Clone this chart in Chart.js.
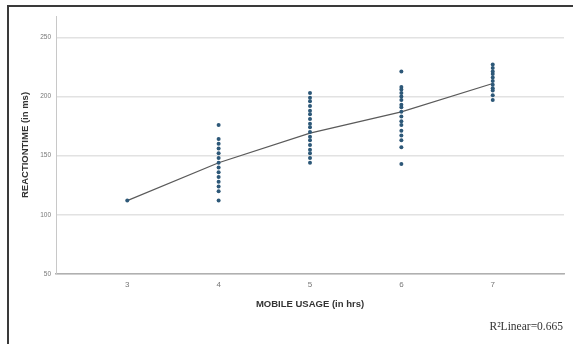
<!DOCTYPE html>
<html>
<head>
<meta charset="utf-8">
<script src="https://cdn.jsdelivr.net/npm/chart.js@4"></script>
<style>
  html, body { margin: 0; padding: 0; background: #fff; }
  #wrap { position: relative; width: 573px; height: 344px; overflow: hidden; }
  #frame { position: absolute; left: 7px; top: 5px; width: 568px; height: 345px;
           border: 2px solid #3a3a3a; box-sizing: border-box; pointer-events: none; }
  #rsq { position: absolute; right: 10px; top: 320px; font: 11.5px "Liberation Serif", serif; color: #333; }
</style>
</head>
<body>
<div id="wrap">
  <canvas id="chart" width="573" height="344"></canvas>
  <div id="frame"></div>
  <div id="rsq">R²Linear=0.665</div>
</div>
<script>
// mobile usage hours (x categories)
var usage_hours = [3, 4, 5, 6, 7];

// reaction times, one array per usage hour
var rt_3hrs = [112];
var rt_4hrs = [176, 164, 160, 156, 152, 148, 144, 140, 136, 132, 128, 124, 120, 112];
var rt_5hrs = [203, 199, 196, 192, 188, 185, 181, 177, 174, 170, 166, 163, 159, 155, 152, 148, 144];
var rt_6hrs = [221, 208, 206, 203, 200, 197, 193, 191, 187, 183, 179, 176, 171, 167, 163, 157, 143];
var rt_7hrs = [227, 224, 221, 219, 216, 213, 210, 207, 205, 201, 197];

// fit line values at each usage hour
var fit_values = [112, 144, 169, 187, 211];

// tick labels
var x_ticks = [3, 4, 5, 6, 7];
var y_ticks = [50, 100, 150, 200, 250];

//build scatter points from the arrays
function buildPoints(){
    let groups = [rt_3hrs, rt_4hrs, rt_5hrs, rt_6hrs, rt_7hrs];
    let points = [];
    groups.forEach((group, i) => {
        group.forEach(v => {
            points.push({x: usage_hours[i], y: v});
        });
    });
    return points;
}

let fit_points = usage_hours.map((h, i) => ({x: h, y: fit_values[i]}));

let ctx = document.getElementById("chart");

let scatter_chart = new Chart(ctx, {
    type: "scatter",
    data: {
        datasets: [{
            type: "line",
            data: fit_points,
            borderColor: "#5a5a5a",
            borderWidth: 1.2,
            pointRadius: 0,
            fill: false,
            order: 2
        }, {
            data: buildPoints(),
            backgroundColor: "#2d5878",
            borderColor: "#2d5878",
            pointRadius: 2,
            pointBorderWidth: 0,
            order: 1
        }]
    },
    options: {
        responsive: false,
        animation: false,
        layout: { padding: { left: 10, top: 16, right: 9, bottom: 0 } },
        plugins: {
            legend: { display: false },
            tooltip: { enabled: false }
        },
        scales: {
            x: {
                type: "linear",
                min: 2.22,
                max: 7.78,
                afterBuildTicks: axis => { axis.ticks = x_ticks.map(v => ({value: v})); },
                afterFit: axis => { axis.height = 70; },
                grid: { display: false, drawTicks: false },
                border: { color: "#b0b0b0", width: 1.5 },
                ticks: {
                    padding: 6,
                    color: "#777",
                    font: { family: "Liberation Sans", size: 8 }
                },
                title: {
                    display: true,
                    text: "MOBILE USAGE (in hrs)",
                    color: "#333",
                    font: { family: "Liberation Sans", size: 9.5, weight: "bold" },
                    padding: { top: 0, bottom: 34 }
                }
            },
            y: {
                min: 50,
                max: 268,
                afterBuildTicks: axis => { axis.ticks = y_ticks.map(v => ({value: v})); },
                afterFit: axis => { axis.width = 46; },
                grid: { color: "#e2e2e2", lineWidth: 1.5, drawTicks: false },
                border: { color: "#c8c8c8", width: 1 },
                ticks: {
                    padding: 5,
                    color: "#777",
                    font: { family: "Liberation Sans", size: 6.5 }
                },
                title: {
                    display: true,
                    text: "REACTIONTIME (in ms)",
                    color: "#333",
                    font: { family: "Liberation Sans", size: 9.5, weight: "bold" },
                    padding: { top: 10, bottom: 0 }
                }
            }
        }
    }
});
</script>
</body>
</html>
